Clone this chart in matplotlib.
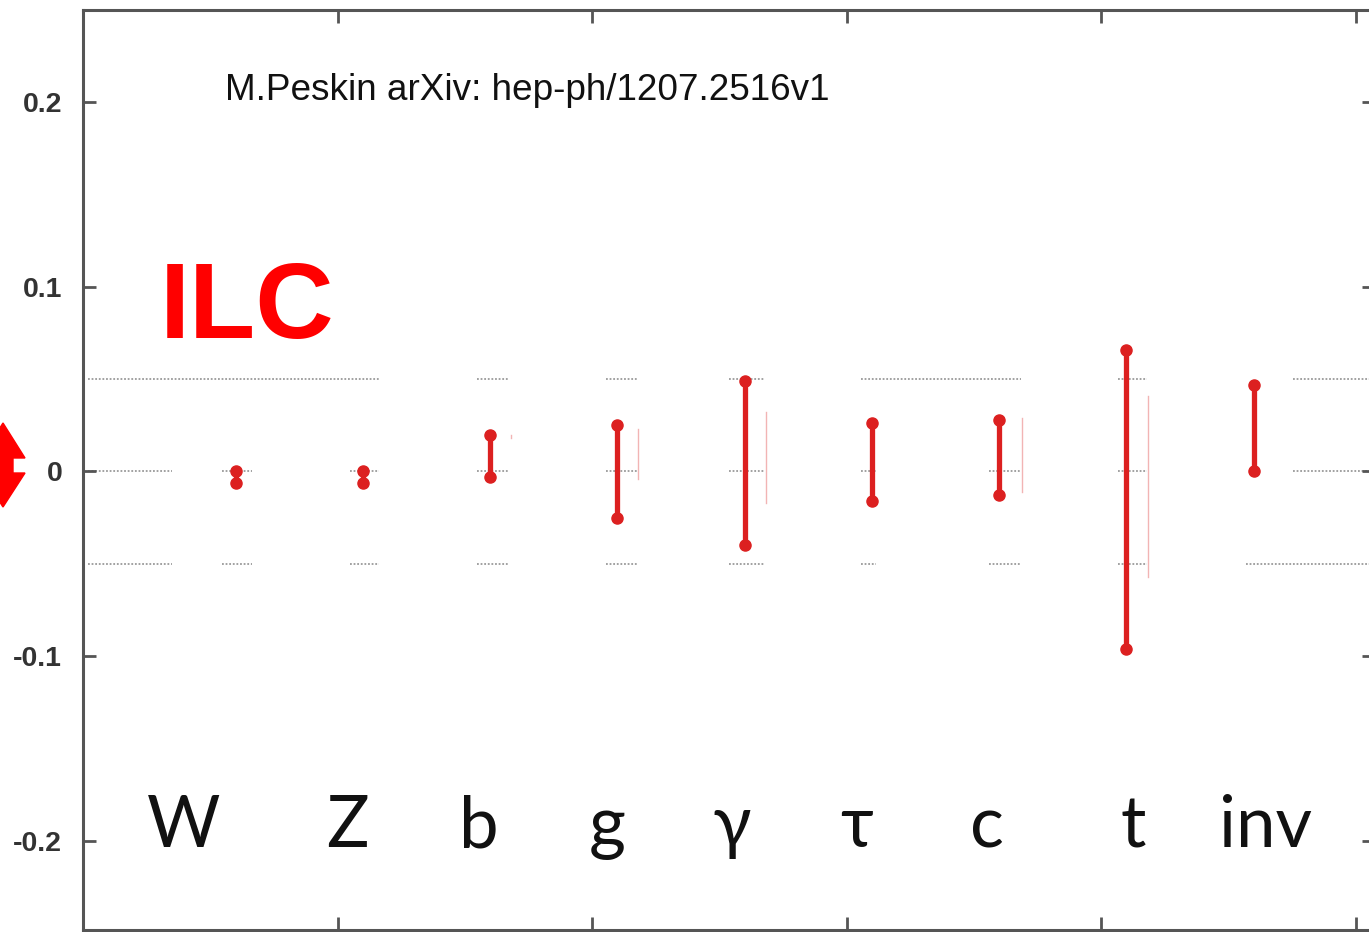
import matplotlib
matplotlib.use("Agg")
import matplotlib.pyplot as plt
from matplotlib.patches import Polygon

# channels and the ILC error bar ends
channels = ["W", "Z", "b", "g", "γ", "τ", "c", "t", "inv"]
x_pos = [1.2, 2.2, 3.2, 4.2, 5.2, 6.2, 7.2, 8.2, 9.2]
upper = [0.0, 0.0, 0.020, 0.025, 0.049, 0.026, 0.028, 0.066, 0.047]
lower = [-0.006, -0.006, -0.003, -0.025, -0.040, -0.016, -0.013, -0.096, 0.0]

# clipped edges of the second (hidden) series
edge_x = [3.36, 4.36, 5.37, 7.38, 8.37]
edge_hi = [0.020, 0.023, 0.032, 0.029, 0.041]
edge_lo = [0.018, -0.004, -0.017, -0.011, -0.057]

yticks = [-0.2, -0.1, 0.0, 0.1, 0.2]
ytick_labels = ["-0.2", "-0.1", "0", "0.1", "0.2"]

# where the category names sit (label layout)
label_x = [0.79, 2.08, 3.11, 4.12, 5.10, 6.08, 7.10, 8.25, 9.29]

# visible pieces of the dotted reference lines
grid_pieces = {
    0.05: [(0.04, 2.33), (3.10, 3.34), (4.11, 4.35), (5.08, 5.35), (6.11, 7.37),
           (8.13, 8.36), (9.51, 10.2)],
    0.0: [(0.04, 0.70), (1.09, 1.33), (2.10, 2.33), (3.10, 3.34), (4.11, 4.35),
          (5.08, 5.35), (6.11, 6.23), (7.12, 7.37), (8.13, 8.36), (9.51, 10.2)],
    -0.05: [(0.04, 0.70), (1.09, 1.33), (2.10, 2.33), (3.10, 3.34), (4.11, 4.35),
            (5.08, 5.35), (6.11, 6.23), (7.12, 7.37), (8.13, 8.36), (9.14, 10.2)],
}

red = "#dc2020"

fig = plt.figure(figsize=(13.69, 9.32), dpi=100)
ax = fig.add_axes([83 / 1369, 2 / 932, 1292 / 1369, 920 / 932])
ax.set_xlim(0, 10.153)
ax.set_ylim(-0.2482, 0.2498)

for y, pieces in grid_pieces.items():
    for a, b in pieces:
        ax.plot([a, b], [y, y], color="#9a9a9a", lw=1.3, ls=(0, (1, 1)), zorder=1)

for x, lo, hi in zip(edge_x, edge_lo, edge_hi):
    ax.plot([x, x], [lo, hi], color="#f2b4b4", lw=1.0, zorder=2)

ax.vlines(x_pos, lower, upper, color=red, lw=3.8, zorder=3)
ax.plot(x_pos, upper, "o", color=red, ms=8, zorder=4)
ax.plot(x_pos, lower, "o", color=red, ms=8, zorder=4)

for x, name in zip(label_x, channels):
    ax.text(x, -0.2035, name, ha="center", va="baseline", fontsize=51,
            family="Lato", color="#111111")

ax.text(1.116, 0.2013, "M.Peskin arXiv: hep-ph/1207.2516v1", ha="left",
        va="baseline", fontsize=26.6, family="Liberation Sans", color="#111111")
ax.text(0.60, 0.0725, "ILC", ha="left", va="baseline", fontsize=78,
        family="Liberation Sans", weight="bold", color="#ff0000")

ax.set_yticks(yticks)
ax.set_yticklabels(ytick_labels, family="Liberation Sans", weight="bold",
                   fontsize=20.5, color="#333333")
ax.set_xticks([2, 4, 6, 8, 10])
ax.set_xticklabels([])
ax.tick_params(direction="in", length=9.5, width=2, color="#555555",
               top=True, right=True, pad=15)
for s in ax.spines.values():
    s.set_linewidth(2.2)
    s.set_color("#555555")

# red double arrow at the left edge
arrow = [(3, 423), (25, 458), (13, 458), (13, 473), (25, 473), (3, 507),
         (-19, 473), (-7, 473), (-7, 458), (-19, 458)]
arrow = [(px / 1369, 1 - py / 932) for px, py in arrow]
fig.patches.append(Polygon(arrow, closed=True, color="#ff0000",
                           transform=fig.transFigure, figure=fig))

fig.savefig("out.png", dpi=100)
